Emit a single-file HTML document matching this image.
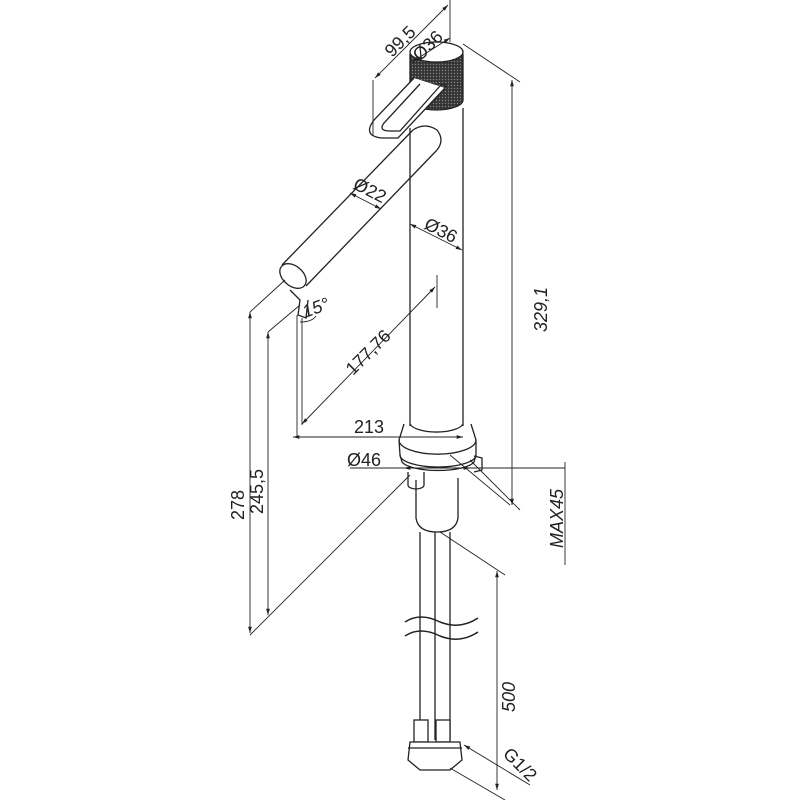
<!DOCTYPE html>
<html><head><meta charset="utf-8"><style>
html,body{margin:0;padding:0;background:#fff;width:800px;height:800px;overflow:hidden}
svg{display:block}
text{font-family:"Liberation Sans",sans-serif;font-size:18px;fill:#222}
</style></head><body>
<svg width="800" height="800" viewBox="0 0 800 800" xmlns="http://www.w3.org/2000/svg">
<defs>
<pattern id="kn" width="3" height="3" patternUnits="userSpaceOnUse"><rect width="3" height="3" fill="#333"/><circle cx="1.5" cy="1.5" r="0.7" fill="#888"/></pattern>
<marker id="a" viewBox="0 0 10 10" refX="10" refY="5" markerWidth="7" markerHeight="7" orient="auto-start-reverse"><path d="M0,2L10,5L0,8z" fill="#222"/></marker>
</defs>
<g fill="none" stroke="#222" stroke-width="1.3">
<!-- knob -->
<path d="M410,54 L410,100 A26.5,10 0 0 0 463,100 L463,54" fill="url(#kn)"/>
<ellipse cx="436.5" cy="52" rx="26.5" ry="10" fill="#fff"/>
<!-- lever U -->
<path d="M414,78 L374,120 Q362,136 382,138 L398,138 L445,88" fill="#fff"/>
<path d="M420,84 L384,123 Q378,131 390,131 L400,131 L440,86" fill="#fff"/>
<path d="M440,86 Q446,82 445,88" />
<!-- column -->
<line x1="410" y1="128" x2="410" y2="426"/>
<line x1="463" y1="108" x2="463" y2="426"/>
<!-- spout -->
<path d="M413,130 L282,265 M437,150 L306,286" />
<path d="M413,130 Q425,122 437,130 Q445,140 437,150"/>
<ellipse cx="293" cy="276" rx="15" ry="10" transform="rotate(40 293 276)" fill="#fff"/>
<path d="M290,290 L300,300 L298,315 L306,318 L308,300"/>
<!-- collar -->
<path d="M404,424 L399,440 A38,14 0 0 0 476,440 L471,424"/>
<path d="M410,424 A27,10 0 0 0 463,424"/>
<path d="M399,440 L400,455 A38,12 0 0 0 476,455 L476,440"/>
<path d="M400,455 L402,462 A37,11 0 0 0 474,462 L476,455"/>
<path d="M474,456 L482,458 L482,470 L474,472"/>
<path d="M408,472 L408,485 A8,4 0 0 0 424,485 L424,472"/>
<!-- shank -->
<path d="M416,480 L416,518 Q418,532 437,532 Q456,532 458,518 L458,478"/>
<!-- hoses -->
<path d="M420,532 L420,740 M435,532 L435,740 M450,532 L450,740"/>
<path d="M405,622 Q420,612 440,622 Q460,630 478,618" stroke-width="1.5"/>
<path d="M405,636 Q420,626 440,636 Q460,644 478,632" stroke-width="1.5"/>
<rect x="414" y="720" width="14" height="22" fill="#fff"/>
<rect x="436" y="720" width="14" height="22" fill="#fff"/>
<path d="M410,742 L460,742 L462,760 L450,770 L420,770 L408,760 Z" fill="#fff"/>
<path d="M408,748 L462,748"/>
</g>
<!-- dimensions -->
<g fill="none" stroke="#222" stroke-width="0.9">
<line x1="373" y1="80" x2="373" y2="135"/><line x1="450" y1="0" x2="450" y2="42"/>
<line x1="375" y1="78" x2="448" y2="5" marker-start="url(#a)" marker-end="url(#a)"/>
<line x1="412" y1="62" x2="450" y2="38" marker-start="url(#a)" marker-end="url(#a)"/>
<line x1="463" y1="44" x2="520" y2="82"/>
<line x1="470" y1="460" x2="520" y2="510"/>
<line x1="512" y1="80" x2="512" y2="505" marker-start="url(#a)" marker-end="url(#a)"/>
<line x1="410" y1="224" x2="462" y2="250" marker-start="url(#a)" marker-end="url(#a)"/>
<line x1="350" y1="193" x2="381" y2="209" marker-start="url(#a)" marker-end="url(#a)"/>
<line x1="437" y1="275" x2="437" y2="308"/>
<line x1="302" y1="424" x2="435" y2="287" marker-start="url(#a)" marker-end="url(#a)"/>
<line x1="297" y1="315" x2="297" y2="437"/>
<line x1="302" y1="318" x2="302" y2="425"/>
<path d="M300,322 Q312,322 316,316"/>
<line x1="293" y1="437" x2="463" y2="437" marker-start="url(#a)" marker-end="url(#a)"/>
<line x1="350" y1="468" x2="565" y2="468"/>
<line x1="404" y1="468" x2="470" y2="468" marker-start="url(#a)" marker-end="url(#a)"/>
<line x1="565" y1="462" x2="565" y2="565"/>
<line x1="450" y1="455" x2="510" y2="505"/>
<line x1="250" y1="312" x2="285" y2="280"/>
<line x1="268" y1="332" x2="300" y2="305"/>
<line x1="250" y1="635" x2="410" y2="475"/>
<line x1="250" y1="312" x2="250" y2="633" marker-start="url(#a)" marker-end="url(#a)"/>
<line x1="268" y1="332" x2="268" y2="615" marker-start="url(#a)" marker-end="url(#a)"/>
<line x1="440" y1="532" x2="505" y2="575"/>
<line x1="497" y1="571" x2="497" y2="790" marker-start="url(#a)" marker-end="url(#a)"/>
<line x1="450" y1="768" x2="505" y2="800"/>
<line x1="464" y1="745" x2="530" y2="785" marker-start="url(#a)"/>
</g>
<text transform="translate(392,58) rotate(-45)">99,5</text>
<text transform="translate(420,62) rotate(-45)">Ø36</text>
<text transform="translate(547,332) rotate(-90)" font-style="italic">329,1</text>
<text transform="translate(423,228) rotate(27)">Ø36</text>
<text transform="translate(352,188) rotate(27)">Ø22</text>
<text transform="translate(353,376) rotate(-45)">177,76</text>
<text x="305" y="318" font-size="15" transform="rotate(-20 305 318)" font-style="italic">15°</text>
<text x="354" y="433">213</text>
<text x="347" y="466">Ø46</text>
<text transform="translate(563,548) rotate(-90)" font-style="italic">MAX45</text>
<text transform="translate(244,520) rotate(-90)">278</text>
<text transform="translate(263,514) rotate(-90)">245,5</text>
<text transform="translate(515,712) rotate(-90)" font-style="italic">500</text>
<text transform="translate(502,755) rotate(45)">G1/2</text>
</svg>
</body></html>
